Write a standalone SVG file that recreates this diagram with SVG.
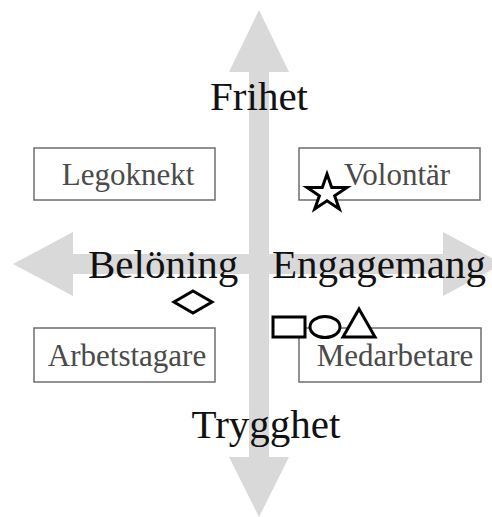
<svg xmlns="http://www.w3.org/2000/svg" width="492" height="517" viewBox="0 0 492 517">
<style>
.axis{fill:#d9d9d9;stroke:none}
.box{fill:#ffffff;stroke:#6e6e6e;stroke-width:1.5}
.blabel{font-family:"Liberation Serif","Times New Roman",serif;font-size:31px;fill:#4a4a4a;text-anchor:middle}
.big{font-family:"Liberation Serif","Times New Roman",serif;font-size:41px;fill:#111111}
.mark{fill:#ffffff;stroke:#000000;stroke-width:3;stroke-linejoin:miter}
</style>
<rect x="0" y="0" width="492" height="517" fill="#ffffff"/>
<g id="connectors">
<polygon class="axis" points="259,10 289,72 269,72 269,457 289,457 259,517 229,457 249,457 249,72 229,72"/>
<polygon class="axis" points="13,264 73,232 73,254 443,254 443,232 503,264 443,296 443,274 73,274 73,296"/>
</g>
<g id="frihet"><text class="big" x="259" y="110" text-anchor="middle">Frihet</text></g>
<g id="trygghet"><text class="big" x="266" y="438" text-anchor="middle">Trygghet</text></g>
<g id="beloning"><text class="big" x="88" y="278">Belöning</text></g>
<g id="engagemang"><text class="big" x="272" y="278">Engagemang</text></g>
<g id="legoknekt">
<rect class="box" x="34" y="148" width="181" height="52"/>
<text class="blabel" x="128" y="185">Legoknekt</text>
</g>
<g id="volontar">
<rect class="box" x="299" y="148" width="181" height="52"/>
<text class="blabel" x="397" y="185">Volontär</text>
</g>
<g id="arbetstagare">
<rect class="box" x="34" y="328" width="181" height="54"/>
<text class="blabel" x="127" y="366">Arbetstagare</text>
</g>
<g id="medarbetare">
<rect class="box" x="299" y="328" width="182" height="54"/>
<text class="blabel" x="395" y="366">Medarbetare</text>
</g>
<g id="star"><path class="mark" d="M327,174 L331.7,187.6 L346.9,187.6 L334.6,195.8 L339.3,208.9 L327,200.8 L314.7,208.9 L319.4,195.8 L307.1,187.6 L322.3,187.6 Z"/></g>
<g id="diamond"><polygon class="mark" points="193,291 212,302 193,313 174,302"/></g>
<g id="square"><rect class="mark" x="273" y="317" width="32" height="20"/></g>
<g id="circle"><ellipse class="mark" cx="325" cy="327" rx="15" ry="10.5"/></g>
<g id="triangle"><polygon class="mark" points="359,309 375,337 343,337"/></g>
</svg>
